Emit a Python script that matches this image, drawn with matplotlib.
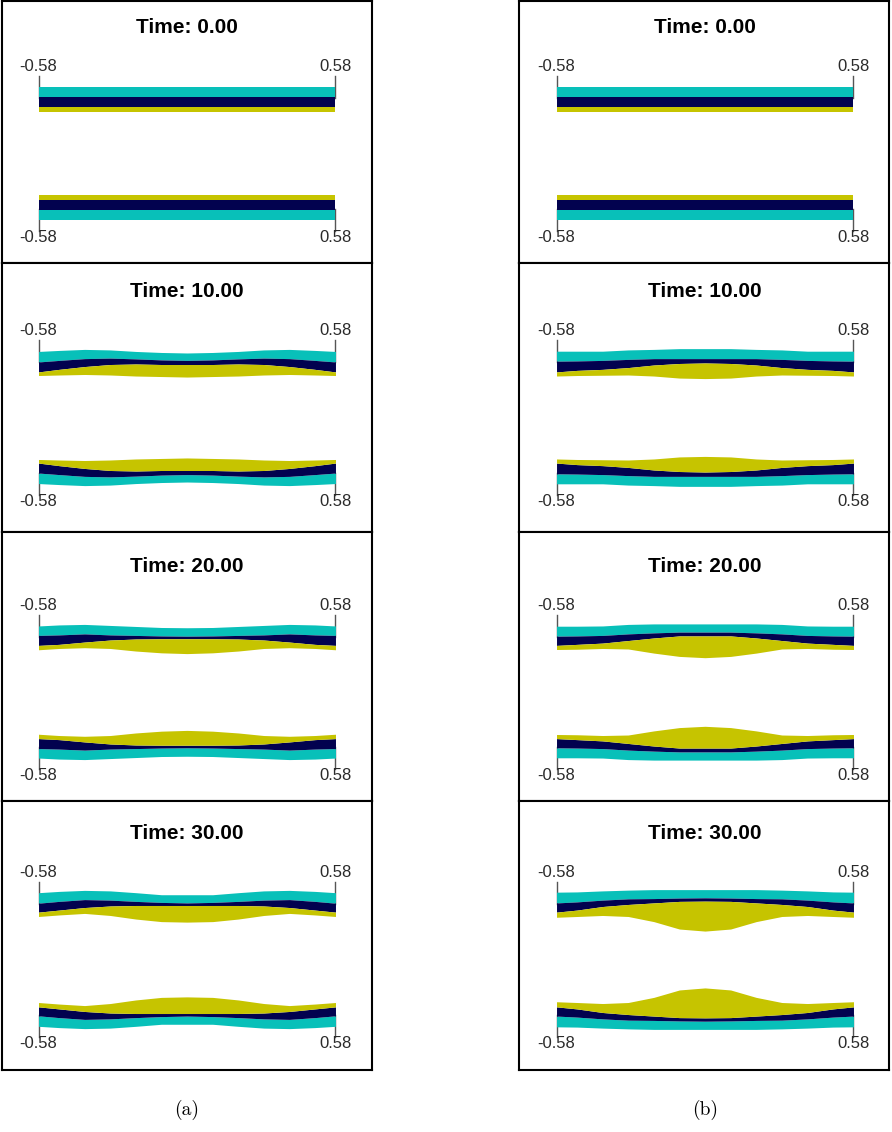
import numpy as np
import matplotlib.pyplot as plt

# half-profiles of the upper layer stack (lower stack is its mirror image)
# heights above channel mid-line, sampled at x = 0 ... 0.58
x_half = [0.0, 0.1, 0.2, 0.3, 0.4, 0.5, 0.58]
times = [0.0, 10.0, 20.0, 30.0]
captions = ['(a)', '(b)']

# case (a): one row per time
cyan_top_a = [[0.259, 0.259, 0.259, 0.259, 0.259, 0.259, 0.259],
              [0.252, 0.254, 0.258, 0.264, 0.266, 0.262, 0.258],
              [0.251, 0.252, 0.256, 0.260, 0.264, 0.262, 0.258],
              [0.253, 0.253, 0.261, 0.268, 0.270, 0.266, 0.261]]
cyan_navy_a = [[0.220, 0.220, 0.220, 0.220, 0.220, 0.220, 0.220],
               [0.223, 0.225, 0.229, 0.232, 0.230, 0.223, 0.217],
               [0.218, 0.219, 0.221, 0.223, 0.227, 0.223, 0.221],
               [0.221, 0.223, 0.227, 0.232, 0.234, 0.227, 0.220]]
navy_yel_a = [[0.180, 0.180, 0.180, 0.180, 0.180, 0.180, 0.180],
              [0.207, 0.207, 0.209, 0.207, 0.199, 0.188, 0.178],
              [0.208, 0.208, 0.207, 0.203, 0.195, 0.186, 0.182],
              [0.211, 0.211, 0.211, 0.209, 0.203, 0.193, 0.185]]
yel_bot_a = [[0.163, 0.163, 0.163, 0.163, 0.163, 0.163, 0.163],
             [0.158, 0.160, 0.162, 0.166, 0.168, 0.166, 0.164],
             [0.150, 0.153, 0.160, 0.170, 0.173, 0.170, 0.165],
             [0.146, 0.148, 0.158, 0.172, 0.180, 0.174, 0.168]]

# case (b)
cyan_top_b = [[0.259, 0.259, 0.259, 0.259, 0.259, 0.259, 0.259],
              [0.269, 0.269, 0.266, 0.264, 0.259, 0.259, 0.259],
              [0.266, 0.266, 0.266, 0.264, 0.258, 0.257, 0.257],
              [0.273, 0.273, 0.273, 0.271, 0.268, 0.264, 0.263]]
cyan_navy_b = [[0.220, 0.220, 0.220, 0.220, 0.220, 0.220, 0.220],
               [0.230, 0.230, 0.230, 0.227, 0.223, 0.221, 0.220],
               [0.234, 0.234, 0.231, 0.227, 0.221, 0.219, 0.218],
               [0.241, 0.240, 0.238, 0.237, 0.232, 0.225, 0.221]]
navy_yel_b = [[0.180, 0.180, 0.180, 0.180, 0.180, 0.180, 0.180],
              [0.213, 0.211, 0.205, 0.195, 0.188, 0.184, 0.178],
              [0.219, 0.219, 0.211, 0.201, 0.191, 0.186, 0.182],
              [0.228, 0.227, 0.221, 0.215, 0.207, 0.193, 0.185]]
yel_bot_b = [[0.163, 0.163, 0.163, 0.163, 0.163, 0.163, 0.163],
             [0.152, 0.154, 0.162, 0.166, 0.165, 0.164, 0.162],
             [0.134, 0.139, 0.152, 0.168, 0.170, 0.167, 0.166],
             [0.111, 0.119, 0.148, 0.168, 0.172, 0.168, 0.165]]

cases = [(cyan_top_a, cyan_navy_a, navy_yel_a, yel_bot_a),
         (cyan_top_b, cyan_navy_b, navy_yel_b, yel_bot_b)]

CYAN = '#08C0B9'
NAVY = '#02024F'
YELLOW = '#C6C400'

W, H = 892, 1132
S = 256.0  # pixels per unit length
col_px = [(2, 372, 187), (519, 889, 705)]
row_px = [(1, 263, 153.5), (263, 532, 417.5), (532, 801, 692), (801, 1070, 959.5)]

fig = plt.figure(figsize=(W / 100, H / 100), dpi=100)


def full(profile):
    p = list(profile)
    return np.array(p[::-1] + p[1:])


xs = np.array([-v for v in x_half[::-1]] + x_half[1:])

for c, (x0, x1, cx) in enumerate(col_px):
    ct_all, cn_all, ny_all, yb_all = cases[c]
    for r, (y0, y1, mid) in enumerate(row_px):
        ax = fig.add_axes([x0 / W, 1 - y1 / H, (x1 - x0) / W, (y1 - y0) / H])
        ax.set_xlim((x0 - cx) / S, (x1 - cx) / S)
        ax.set_ylim(-(y1 - mid) / S, (mid - y0) / S)
        ax.set_xticks([])
        ax.set_yticks([])
        for sp in ax.spines.values():
            sp.set_linewidth(1.5)
            sp.set_color('black')

        ct = full(ct_all[r])
        cn = full(cn_all[r])
        ny = full(ny_all[r])
        yb = full(yb_all[r])

        # end ticks, partly hidden behind the layers
        for xe in (-0.58, 0.58):
            ax.plot([xe, xe], [0.215, 0.301], color='#555555', lw=1.0, zorder=1)
            ax.plot([xe, xe], [-0.215, -0.301], color='#555555', lw=1.0, zorder=1)

        for sgn in (1, -1):
            ax.fill_between(xs, sgn * cn, sgn * ct, color=CYAN, lw=0, zorder=2)
            ax.fill_between(xs, sgn * ny, sgn * cn, color=NAVY, lw=0, zorder=2)
            ax.fill_between(xs, sgn * yb, sgn * ny, color=YELLOW, lw=0, zorder=2)

        ax.text(0, 126 / S, 'Time: %.2f' % times[r], ha='center', va='center',
                fontsize=15, fontweight='bold', family='Liberation Sans')
        for xe, lab in ((-0.58, '-0.58'), (0.58, '0.58')):
            ax.text(xe, 87 / S, lab, ha='center', va='center', fontsize=12,
                    color='#2a2a2a', family='Liberation Sans')
            ax.text(xe, -84 / S, lab, ha='center', va='center', fontsize=12,
                    color='#2a2a2a', family='Liberation Sans')

    fig.text(cx / W, 1 - 1110 / H, captions[c], ha='center', va='center',
             fontsize=14, family='cmr10')

fig.savefig('out.png', dpi=100)
